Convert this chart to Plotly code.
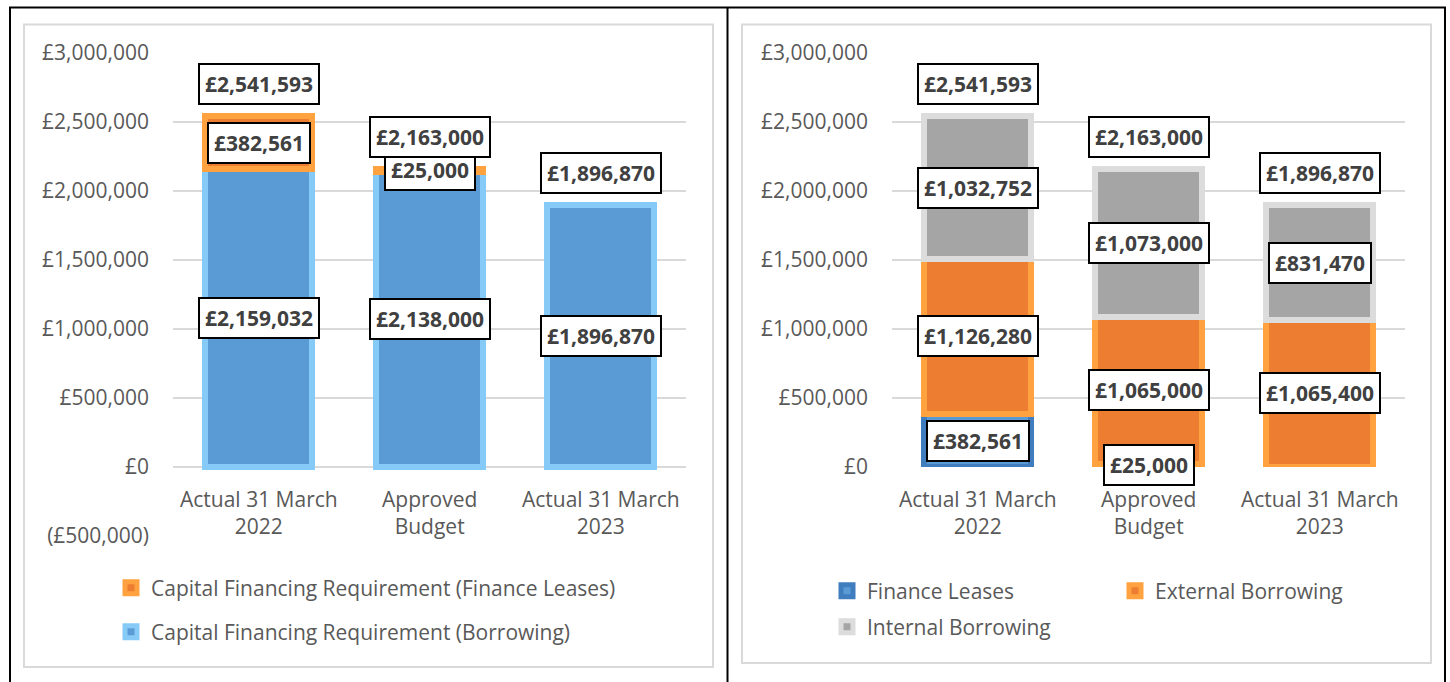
import plotly.graph_objects as go

# ---------------- data ----------------
categories = ["Actual 31 March 2022", "Approved Budget", "Actual 31 March 2023"]
category_labels = ["Actual 31 March<br>2022", "Approved<br>Budget", "Actual 31 March<br>2023"]

# left chart
cfr_borrowing = [2159032, 2138000, 1896870]
cfr_finance_leases = [382561, 25000, 0]

# right chart
finance_leases = [382561, 25000, 0]
external_borrowing = [1126280, 1065000, 1065400]
internal_borrowing = [1032752, 1073000, 831470]

left_tickvals = [-500000, 0, 500000, 1000000, 1500000, 2000000, 2500000, 3000000]
left_ticktext = ["(£500,000)", "£0", "£500,000", "£1,000,000", "£1,500,000",
                 "£2,000,000", "£2,500,000", "£3,000,000"]
right_tickvals = [0, 500000, 1000000, 1500000, 2000000, 2500000, 3000000]
right_ticktext = ["£0", "£500,000", "£1,000,000", "£1,500,000",
                  "£2,000,000", "£2,500,000", "£3,000,000"]

# ---------------- helpers ----------------
W, H = 1450, 682
FONT = "Open Sans"
AXIS_TXT = "#595959"
LABEL_TXT = "#404040"
GRID = "#D9D9D9"
EDGE = 6


def px_x(x):
    return x / W


def px_y(y):
    return 1 - y / H


def money(v):
    return "£{:,}".format(v)


def edge_widths(values):
    # no bevel outline on empty (zero) segments
    return [EDGE if v > 0 else 0 for v in values]


fig = go.Figure()

# ---------------- left chart bars ----------------
fig.add_trace(go.Bar(
    x=categories, y=cfr_borrowing, name="Capital Financing Requirement (Borrowing)",
    marker=dict(color="#5B9BD5", line=dict(color="#86CBF8", width=edge_widths(cfr_borrowing))),
    width=0.62, xaxis="x", yaxis="y", legend="legend2", hoverinfo="skip"))
fig.add_trace(go.Bar(
    x=categories, y=cfr_finance_leases, name="Capital Financing Requirement (Finance Leases)",
    marker=dict(color="#ED7D31", line=dict(color="#FFA23F", width=edge_widths(cfr_finance_leases))),
    width=0.62, xaxis="x", yaxis="y", legend="legend", hoverinfo="skip"))

# ---------------- right chart bars ----------------
fig.add_trace(go.Bar(
    x=categories, y=finance_leases, name="Finance Leases",
    marker=dict(color="#5B9BD5", line=dict(color="#3F7DBF", width=edge_widths(finance_leases))),
    width=0.62, xaxis="x2", yaxis="y2", legend="legend3", hoverinfo="skip"))
fig.add_trace(go.Bar(
    x=categories, y=external_borrowing, name="External Borrowing",
    marker=dict(color="#ED7D31", line=dict(color="#FFA23F", width=edge_widths(external_borrowing))),
    width=0.62, xaxis="x2", yaxis="y2", legend="legend4", hoverinfo="skip"))
fig.add_trace(go.Bar(
    x=categories, y=internal_borrowing, name="Internal Borrowing",
    marker=dict(color="#A5A5A5", line=dict(color="#DCDCDC", width=edge_widths(internal_borrowing))),
    width=0.62, xaxis="x2", yaxis="y2", legend="legend5", hoverinfo="skip"))

# ---------------- data labels ----------------
annotations = []


def box_label(xv, yv, text, xref, yref, yshift=0):
    return dict(
        x=xv, y=yv, xref=xref, yref=yref, text="<b>" + text + "</b>",
        showarrow=False, yshift=yshift, xanchor="center", yanchor="middle",
        font=dict(family=FONT, size=21, color=LABEL_TXT),
        bgcolor="white", bordercolor="black", borderwidth=2, borderpad=5)


def add_stack_labels(series_list, xref, yref):
    base = [0] * len(categories)
    for s in series_list:
        for i, (c, v) in enumerate(zip(categories, s)):
            if v > 0:
                annotations.append(box_label(c, base[i] + v / 2, money(v), xref, yref))
            base[i] += v
    for i, c in enumerate(categories):
        annotations.append(box_label(c, base[i], money(base[i]), xref, yref, yshift=32))


add_stack_labels([cfr_borrowing, cfr_finance_leases], "x", "y")
add_stack_labels([finance_leases, external_borrowing, internal_borrowing], "x2", "y2")

# category labels sitting just under the zero line
for xref, yref in (("x", "y"), ("x2", "y2")):
    for c, lab in zip(categories, category_labels):
        annotations.append(dict(
            x=c, y=0, xref=xref, yref=yref, text=lab, showarrow=False,
            yshift=-45, xanchor="center", yanchor="middle",
            font=dict(family=FONT, size=21, color=AXIS_TXT)))

# ---------------- frames ----------------
shapes = [
    # outer black table lines
    dict(type="line", xref="paper", yref="paper", x0=px_x(9), x1=px_x(1446),
         y0=px_y(7.5), y1=px_y(7.5), line=dict(color="black", width=2)),
    dict(type="line", xref="paper", yref="paper", x0=px_x(10), x1=px_x(10),
         y0=px_y(7), y1=0, line=dict(color="black", width=2)),
    dict(type="line", xref="paper", yref="paper", x0=px_x(727.5), x1=px_x(727.5),
         y0=px_y(7), y1=0, line=dict(color="black", width=2)),
    dict(type="line", xref="paper", yref="paper", x0=px_x(1445), x1=px_x(1445),
         y0=px_y(7), y1=0, line=dict(color="black", width=2)),
    # light grey chart borders
    dict(type="rect", xref="paper", yref="paper", x0=px_x(24), x1=px_x(713),
         y0=px_y(667), y1=px_y(24.5), line=dict(color=GRID, width=2)),
    dict(type="rect", xref="paper", yref="paper", x0=px_x(742), x1=px_x(1431),
         y0=px_y(663), y1=px_y(24.5), line=dict(color=GRID, width=2)),
]

legend_common = dict(font=dict(family=FONT, size=21, color=AXIS_TXT),
                     bgcolor="rgba(0,0,0,0)", xanchor="left", yanchor="middle",
                     orientation="v")

fig.update_layout(
    width=W, height=H, margin=dict(l=0, r=0, t=0, b=0, autoexpand=False),
    paper_bgcolor="white", plot_bgcolor="white",
    barmode="stack", showlegend=True,
    font=dict(family=FONT, size=21, color=AXIS_TXT),
    xaxis=dict(domain=[px_x(173), px_x(686)], anchor="y", showticklabels=False,
               showgrid=False, zeroline=False, ticks="", automargin=False),
    yaxis=dict(domain=[px_y(536), px_y(53)], anchor="x", range=[-500000, 3000000],
               tickmode="array", tickvals=left_tickvals, ticktext=left_ticktext,
               showgrid=True, gridcolor=GRID, gridwidth=2, zeroline=False,
               ticks="", ticklabelstandoff=23, automargin=False,
               tickfont=dict(family=FONT, size=21, color=AXIS_TXT)),
    xaxis2=dict(domain=[px_x(892), px_x(1405)], anchor="y2", showticklabels=False,
                showgrid=False, zeroline=False, ticks="", automargin=False),
    yaxis2=dict(domain=[px_y(467), px_y(53)], anchor="x2", range=[0, 3000000],
                tickmode="array", tickvals=right_tickvals, ticktext=right_ticktext,
                showgrid=True, gridcolor=GRID, gridwidth=2, zeroline=False,
                ticks="", ticklabelstandoff=23, automargin=False,
                tickfont=dict(family=FONT, size=21, color=AXIS_TXT)),
    legend=dict(x=px_x(111), y=px_y(588), **legend_common),
    legend2=dict(x=px_x(111), y=px_y(632), **legend_common),
    legend3=dict(x=px_x(827), y=px_y(591), **legend_common),
    legend4=dict(x=px_x(1115), y=px_y(591), **legend_common),
    legend5=dict(x=px_x(827), y=px_y(627), **legend_common),
    annotations=annotations,
    shapes=shapes,
)

fig.write_html(
    "out.html",
    config={"displayModeBar": False, "staticPlot": True},
    post_script="document.body.style.margin='0';document.body.style.overflow='hidden';",
)
